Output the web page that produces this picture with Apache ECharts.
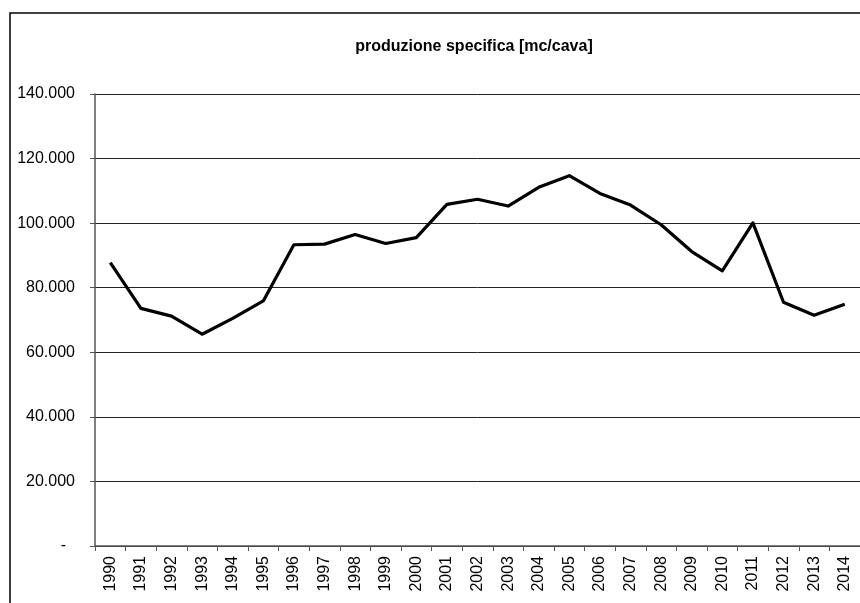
<!DOCTYPE html>
<html>
<head>
<meta charset="utf-8">
<script src="https://cdn.jsdelivr.net/npm/echarts@6/dist/echarts.min.js"></script>
<style>
  html, body { margin: 0; padding: 0; background: #fff; }
  #chart { width: 860px; height: 603px; }
</style>
</head>
<body>
<div id="chart"></div>
<script>
// Anni di riferimento
const anni = ['1990','1991','1992','1993','1994','1995','1996','1997','1998','1999',
              '2000','2001','2002','2003','2004','2005','2006','2007','2008','2009',
              '2010','2011','2012','2013','2014'];
// Produzione specifica [mc/cava]
const produzioneSpecifica = [87800, 73600, 71200, 65600, 70500, 75900, 93300, 93500, 96500, 93700,
                             95500, 105800, 107400, 105300, 111100, 114700, 109200, 105600, 99500, 91200,
                             85200, 100100, 75500, 71500, 74900];
// Scala asse Y
const yMin = 0, yMax = 140000, yPasso = 20000;

const FONT = '"Liberation Sans", Arial, sans-serif';

function formatMigliaia(v) {
  if (v === 0) return '-  ';
  return String(v).replace(/\B(?=(\d{3})+(?!\d))/g, '.');
}

const chart = echarts.init(document.getElementById('chart'), null, { renderer: 'canvas' });
chart.setOption({
  animation: false,
  backgroundColor: '#ffffff',
  textStyle: { fontFamily: FONT },
  title: {
    text: 'produzione specifica [mc/cava]',
    left: 469,
    top: 34,
    textAlign: 'center',
    textStyle: { fontFamily: FONT, fontSize: 16, fontWeight: 'bold', color: '#000' }
  },
  graphic: [{
    type: 'rect',
    shape: { x: 10, y: 13, width: 1000, height: 1000 },
    style: { fill: 'none', stroke: '#000', lineWidth: 1.5 },
    silent: true,
    z: -1
  }],
  grid: { left: 95, top: 94, width: 775, height: 452, containLabel: false },
  xAxis: {
    type: 'category',
    data: anni,
    boundaryGap: true,
    axisLine: { show: true, lineStyle: { color: '#555', width: 1.5 } },
    axisTick: { show: true, length: 5, inside: false, lineStyle: { color: '#555', width: 1 } },
    axisLabel: {
      rotate: 90,
      interval: 0,
      margin: 10,
      fontFamily: FONT,
      fontSize: 16,
      color: '#000'
    },
    splitLine: { show: false }
  },
  yAxis: {
    type: 'value',
    min: yMin,
    max: yMax,
    interval: yPasso,
    axisLine: { show: true, lineStyle: { color: '#555', width: 1.5 } },
    axisTick: { show: true, length: 5, inside: false, lineStyle: { color: '#555', width: 1 } },
    axisLabel: {
      formatter: formatMigliaia,
      margin: 20,
      fontFamily: FONT,
      fontSize: 16,
      color: '#000'
    },
    splitLine: { show: true, lineStyle: { color: '#222', width: 1 } }
  },
  series: [{
    type: 'line',
    data: produzioneSpecifica,
    showSymbol: false,
    symbol: 'none',
    lineStyle: { color: '#000', width: 3.2, join: 'round' },
    z: 5
  }]
});
</script>
</body>
</html>
